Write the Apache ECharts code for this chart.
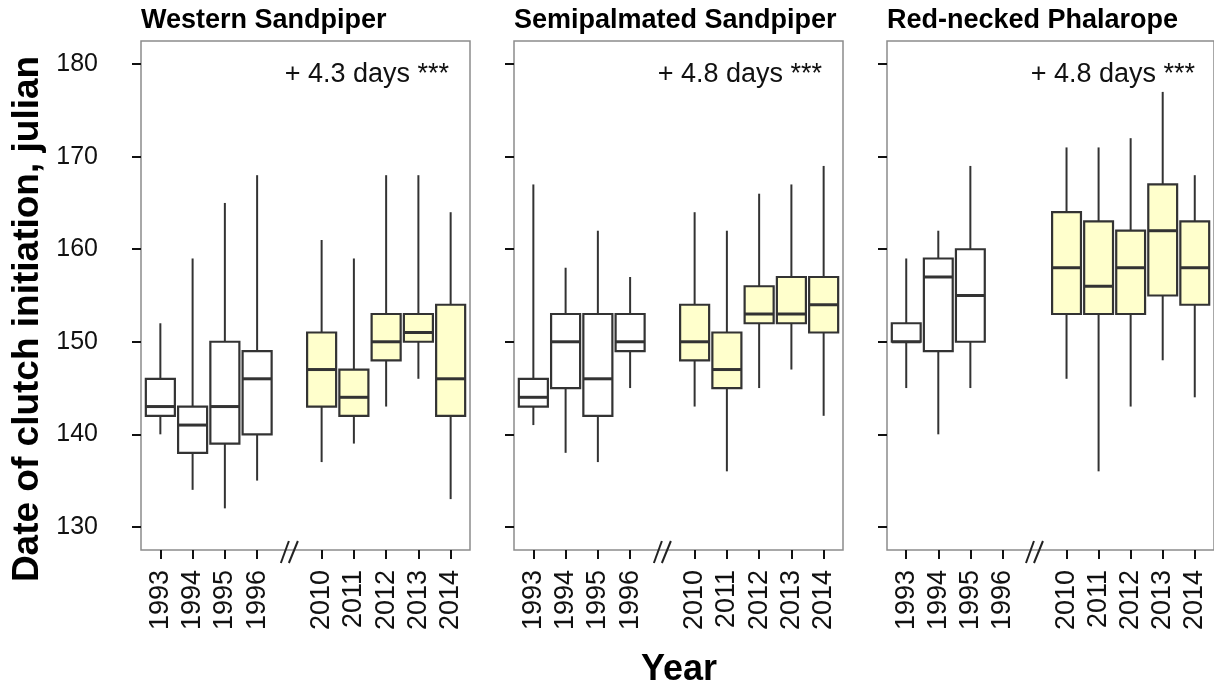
<!DOCTYPE html>
<html>
<head>
<meta charset="utf-8">
<script src="https://cdn.jsdelivr.net/npm/echarts@6/dist/echarts.min.js"></script>
<style>
  html, body { margin: 0; padding: 0; background: #fff; }
  #chart { width: 1214px; height: 691px; }
</style>
</head>
<body>
<div id="chart"></div>
<script>
// Survey years (the 1997–2009 gap is drawn as an axis break)
const years = ['1993', '1994', '1995', '1996', '2010', '2011', '2012', '2013', '2014'];

// Box statistics per year: [lower whisker, Q1, median, Q3, upper whisker]
const westernSandpiper = [
  [140, 142, 143, 146, 152],
  [134, 138, 141, 143, 159],
  [132, 139, 143, 150, 165],
  [135, 140, 146, 149, 168],
  [137, 143, 147, 151, 161],
  [139, 142, 144, 147, 159],
  [143, 148, 150, 153, 168],
  [146, 150, 151, 153, 168],
  [133, 142, 146, 154, 164]
];
const semipalmatedSandpiper = [
  [141, 143, 144, 146, 167],
  [138, 145, 150, 153, 158],
  [137, 142, 146, 153, 162],
  [145, 149, 150, 153, 157],
  [143, 148, 150, 154, 164],
  [136, 145, 147, 151, 162],
  [145, 152, 153, 156, 166],
  [147, 152, 153, 157, 167],
  [142, 151, 154, 157, 169]
];
const redneckedPhalarope = [
  [145, 150, 150, 152, 159],
  [140, 149, 157, 159, 162],
  [145, 150, 155, 160, 169],
  null,
  [146, 153, 158, 164, 171],
  [136, 153, 156, 163, 171],
  [143, 153, 158, 162, 172],
  [148, 155, 162, 167, 177],
  [144, 154, 158, 163, 168]
];

const panelTitles = ['Western Sandpiper', 'Semipalmated Sandpiper', 'Red-necked Phalarope'];
const trendLabels = ['+ 4.3 days ***', '+ 4.8 days ***', '+ 4.8 days ***'];
const yTicks = [130, 140, 150, 160, 170, 180];

const panels = [westernSandpiper, semipalmatedSandpiper, redneckedPhalarope];

// Slot on the x scale: four early years, one empty slot for the break, five recent years
const slotOf = i => (i < 4 ? i + 1 : i + 2);
const breakSlot = 5;
const xTicks = years.map((_, i) => slotOf(i));
const yearAt = {};
years.forEach((y, i) => { yearAt[slotOf(i)] = y; });

const FONT = "'Liberation Sans', Arial, Helvetica, sans-serif";
const INK = '#333333';
const Y_MIN = 127.5, Y_MAX = 182.5;

const gridLeft = [141, 514, 887];
const gridTop = 41, gridW = 329, gridH = 509;

const grids = [], xAxes = [], yAxes = [], series = [], graphics = [];

panels.forEach((stats, p) => {
  grids.push({
    left: gridLeft[p], top: gridTop, width: gridW, height: gridH,
    show: true, borderColor: '#8c8c8c', borderWidth: 1.5, backgroundColor: 'transparent'
  });
  xAxes.push({
    gridIndex: p, type: 'value', min: 0.4, max: 10.6,
    axisLine: { show: false }, splitLine: { show: false },
    axisTick: { show: true, customValues: xTicks, length: 9, lineStyle: { color: '#111', width: 2 } },
    axisLabel: {
      show: true, customValues: xTicks, rotate: 90, margin: 20,
      fontFamily: FONT, fontSize: 27, color: '#111',
      formatter: v => yearAt[Math.round(v)] || ''
    }
  });
  yAxes.push({
    gridIndex: p, type: 'value', min: Y_MIN, max: Y_MAX,
    axisLine: { show: false }, splitLine: { show: false },
    axisTick: { show: true, customValues: yTicks, length: 9, lineStyle: { color: '#111', width: 2 } },
    axisLabel: {
      show: p === 0, customValues: yTicks, margin: 43,
      fontFamily: FONT, fontSize: 25, color: '#111'
    }
  });

  const data = [];
  stats.forEach((s, i) => {
    if (s) data.push([slotOf(i), s[0], s[1], s[2], s[3], s[4], i >= 4 ? 1 : 0]);
  });

  series.push({
    type: 'custom', xAxisIndex: p, yAxisIndex: p, clip: true,
    encode: { x: 0, y: [1, 2, 3, 4, 5] },
    data: data,
    renderItem: (params, api) => {
      const x = api.value(0);
      const half = api.size([0.9, 0])[0] / 2;
      const lo = api.coord([x, api.value(1)]);
      const q1 = api.coord([x, api.value(2)]);
      const md = api.coord([x, api.value(3)]);
      const q3 = api.coord([x, api.value(4)]);
      const hi = api.coord([x, api.value(5)]);
      const fill = api.value(6) ? '#ffffcc' : '#ffffff';
      return {
        type: 'group',
        children: [
          { type: 'line', shape: { x1: lo[0], y1: lo[1], x2: q1[0], y2: q1[1] },
            style: { stroke: INK, lineWidth: 2 } },
          { type: 'line', shape: { x1: q3[0], y1: q3[1], x2: hi[0], y2: hi[1] },
            style: { stroke: INK, lineWidth: 2 } },
          { type: 'rect', shape: { x: q3[0] - half, y: q3[1], width: half * 2, height: q1[1] - q3[1] },
            style: { fill: fill, stroke: INK, lineWidth: 2.2 } },
          { type: 'line', shape: { x1: md[0] - half, y1: md[1], x2: md[0] + half, y2: md[1] },
            style: { stroke: INK, lineWidth: 3 } }
        ]
      };
    }
  });

  // Axis break marker "//" between 1996 and 2010
  series.push({
    type: 'custom', xAxisIndex: p, yAxisIndex: p, clip: false, silent: true,
    encode: { x: 0, y: 1 },
    data: [[breakSlot, Y_MIN]],
    renderItem: (params, api) => {
      const c = api.coord([api.value(0), api.value(1)]);
      return {
        type: 'group',
        children: [
          { type: 'line', shape: { x1: c[0] - 8.5, y1: c[1] + 13, x2: c[0] - 0.5, y2: c[1] - 9 },
            style: { stroke: '#222', lineWidth: 2 } },
          { type: 'line', shape: { x1: c[0] - 0.5, y1: c[1] + 13, x2: c[0] + 8.5, y2: c[1] - 9 },
            style: { stroke: '#222', lineWidth: 2 } }
        ]
      };
    }
  });

  graphics.push({
    type: 'text', left: gridLeft[p], top: 7,
    style: { text: panelTitles[p], font: `bold 27px ${FONT}`, fill: '#000' }
  });
  graphics.push({
    type: 'text', x: gridLeft[p] + gridW - 21, y: 75,
    style: { text: trendLabels[p], font: `27px ${FONT}`, fill: '#111', align: 'right', verticalAlign: 'middle' }
  });
});

graphics.push({
  type: 'text', x: 28, y: 319, rotation: Math.PI / 2,
  style: { text: 'Date of clutch initiation, julian', font: `bold 37px ${FONT}`, fill: '#000',
           align: 'center', verticalAlign: 'middle' }
});
graphics.push({
  type: 'text', x: 679, y: 670,
  style: { text: 'Year', font: `bold 36px ${FONT}`, fill: '#000', align: 'center', verticalAlign: 'middle' }
});

const chart = echarts.init(document.getElementById('chart'), null, { renderer: 'canvas' });
chart.setOption({
  animation: false,
  backgroundColor: '#ffffff',
  grid: grids,
  xAxis: xAxes,
  yAxis: yAxes,
  series: series,
  graphic: graphics
});
</script>
</body>
</html>
